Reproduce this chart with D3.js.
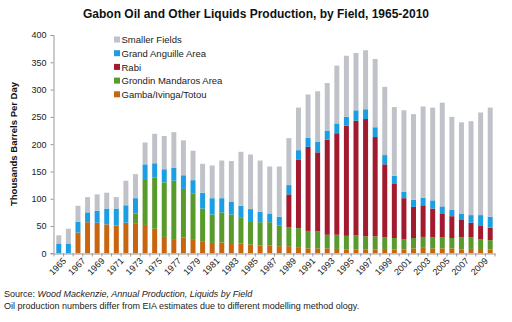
<!DOCTYPE html>
<html><head><meta charset="utf-8">
<script src="https://cdn.jsdelivr.net/npm/d3@7"></script>
<style>body{margin:0;background:#fff;} svg{display:block;font-family:"Liberation Sans",Arial,sans-serif;}</style>
</head><body>
<svg id="chart" width="512" height="322"></svg>
<script>
const years = d3.range(1965, 2011).map(String);
const gamba =   [0,0,38,57,56,53,51,56,54,52,45,30,26,29,26,21,19,20,17,18,16,14,14,13,13,10,9,9,9,8,7,7,7,7,8,7,7,9,10,9,9,9,7,8,6,7];
const grondin = [0,0,0,0,0,0,0,0,19,84,94,100,107,89,84,61,52,55,54,47,43,43,43,38,35,36,32,31,25,26,25,26,24,24,21,21,19,19,20,20,20,19,22,21,20,17];
const rabi =    [0,0,0,0,0,0,0,0,0,0,0,0,0,0,0,0,0,0,0,0,0,0,0,0,60,126,154,145,174,186,202,210,215,182,134,99,75,57,58,53,43,40,32,27,24,23];
const anguille =[18,18,20,18,22,29,31,32,28,27,26,24,24,25,24,29,30,26,23,22,22,19,16,16,17,17,17,19,17,18,16,19,18,18,17,15,12,13,14,15,14,12,12,14,20,20];
const smaller = [15,27,29,28,30,29,21,45,44,40,54,61,65,64,54,53,60,69,75,99,100,94,86,92,86,78,79,93,87,106,112,105,108,125,125,126,149,157,167,170,190,170,167,172,188,200];
const seriesNames = ["Gamba/Ivinga/Totou","Grondin Mandaros Area","Rabi","Grand Anguille Area","Smaller Fields"];
const seriesColors = ["#c8650f","#589b2b","#a11a2e","#1b9fe2","#bfc3c9"];
const yTicks = [0,50,100,150,200,250,300,350,400];

const rows = years.map((y,i)=>({year:y, g:gamba[i], gr:grondin[i], r:rabi[i], a:anguille[i], s:smaller[i]}));
const keys = ["g","gr","r","a","s"];
const stack = d3.stack().keys(keys)(rows);

const svg = d3.select("#chart");
const x = d3.scaleBand().domain(years).range([54,495]).paddingInner(0.48).paddingOuter(0.24);
const y = d3.scaleLinear().domain([0,400]).range([253.3,35]);

// bars
svg.append("g").selectAll("g").data(stack).join("g")
  .attr("fill",(d,i)=>seriesColors[i])
  .selectAll("rect").data(d=>d).join("rect")
  .attr("x",d=>x(d.data.year))
  .attr("width",x.bandwidth())
  .attr("y",d=>y(d[1]))
  .attr("height",d=>Math.max(0,y(d[0])-y(d[1])));

// y axis
const yAxis = svg.append("g").attr("transform","translate(53.5,0)")
  .call(d3.axisLeft(y).tickValues(yTicks).tickSize(3).tickPadding(4));
yAxis.select(".domain").attr("stroke","#999");
yAxis.selectAll(".tick line").attr("stroke","#999");
yAxis.selectAll("text").attr("fill","#222").style("font-size","9px");

// x axis
const xAxis = svg.append("g").attr("transform","translate(0,253.5)")
  .call(d3.axisBottom(x).tickSize(0).tickFormat((d,i)=> i%2===0 ? d : ""));
xAxis.select(".domain").attr("stroke","#999");
xAxis.selectAll("text").attr("fill","#222").style("font-size","9px")
  .attr("text-anchor","end").attr("transform","translate(4,4) rotate(-45)").attr("dy","0.3em");
// category boundary ticks
svg.append("g").selectAll("line").data(years.concat(["end"])).join("line")
  .attr("x1",(d,i)=> i<years.length ? x(d)-x.step()*x.paddingInner()/2 : 495)
  .attr("x2",(d,i)=> i<years.length ? x(d)-x.step()*x.paddingInner()/2 : 495)
  .attr("y1",253.5).attr("y2",256.5).attr("stroke","#999");

// legend
const legOrder = [4,3,2,1,0];
const leg = svg.append("g");
legOrder.forEach((si,k)=>{
  const ly = 40 + k*13.7;
  leg.append("rect").attr("x",114).attr("y",ly-3.5).attr("width",6).attr("height",6).attr("fill",seriesColors[si]);
  leg.append("text").attr("x",121.5).attr("y",ly).attr("dy","0.35em").style("font-size","9.5px").attr("fill","#222").text(seriesNames[si]);
});

// title
svg.append("text").attr("x",256).attr("y",18).attr("text-anchor","middle")
  .style("font-size","12px").style("font-weight","bold").attr("fill","#111")
  .text("Gabon Oil and Other Liquids Production, by Field, 1965-2010");

// y label
svg.append("text").attr("transform","translate(17,144) rotate(-90)").attr("text-anchor","middle")
  .style("font-size","9.5px").style("font-weight","bold").attr("fill","#111")
  .text("Thousands Barrels Per Day");

// notes
const n1 = svg.append("text").attr("x",4).attr("y",297).style("font-size","9px").attr("fill","#222");
n1.append("tspan").text("Source: ");
n1.append("tspan").style("font-style","italic").text("Wood Mackenzie, Annual Production, Liquids by Field");
svg.append("text").attr("x",4).attr("y",309).style("font-size","9px").attr("fill","#222")
  .text("Oil production numbers differ from EIA estimates due to different modelling method ology.");
</script>
</body></html>
